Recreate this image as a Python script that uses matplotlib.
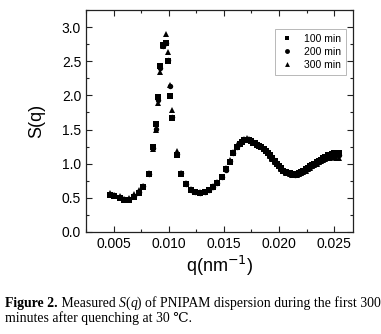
import matplotlib
matplotlib.use("Agg")
import matplotlib.pyplot as plt
from matplotlib.ticker import MultipleLocator

# scattering vector, peak region (nm^-1)
q_low = [0.00464, 0.00506, 0.00554, 0.00597, 0.00639, 0.00681, 0.00730, 0.00771,
         0.00817, 0.00859, 0.00884, 0.00904, 0.00925, 0.00947, 0.00971, 0.00992,
         0.01010, 0.01034, 0.01077, 0.01115, 0.01158, 0.01200, 0.01242, 0.01285,
         0.01327, 0.01369, 0.01400, 0.01441, 0.01481, 0.01520, 0.01556, 0.01586,
         0.01622]
s100_low = [0.54, 0.53, 0.50, 0.47, 0.47, 0.51, 0.57, 0.66, 0.85, 1.25, 1.58, 1.97,
            2.43, 2.74, 2.77, 2.50, 1.99, 1.67, 1.12, 0.85, 0.70, 0.62, 0.58, 0.57,
            0.58, 0.62, 0.66, 0.72, 0.81, 0.92, 1.03, 1.15, 1.25]
s200_low = [0.55, 0.54, 0.51, 0.48, 0.48, 0.53, 0.58, 0.67, 0.85, 1.23, 1.51, 1.93,
            2.40, 2.72, 2.76, 2.52, 2.14, 1.69, 1.14, 0.86, 0.71, 0.62, 0.58, 0.57,
            0.58, 0.61, 0.66, 0.72, 0.80, 0.91, 1.04, 1.16, 1.25]
s300_low = [0.57, 0.54, 0.52, 0.48, 0.50, 0.55, 0.61, 0.67, 0.86, 1.21, 1.49, 1.89,
            2.34, 2.73, 2.90, 2.63, 2.15, 1.78, 1.19, 0.87, 0.72, 0.63, 0.59, 0.58,
            0.59, 0.62, 0.67, 0.73, 0.81, 0.93, 1.05, 1.17, 1.27]

# dense high-q region
q_high = [0.01645, 0.01665, 0.01685, 0.01705, 0.01725, 0.01745, 0.01765, 0.0178,
          0.0180, 0.0182, 0.0184, 0.0186, 0.0188, 0.0190, 0.0192, 0.0194, 0.0196,
          0.0198, 0.0200, 0.0202, 0.0204, 0.0206, 0.0208, 0.0210, 0.0212, 0.0214,
          0.0216, 0.0218, 0.0220, 0.0222, 0.0224, 0.0226, 0.0228, 0.0230, 0.0232,
          0.0234, 0.0236, 0.0238, 0.0240, 0.0242, 0.0244, 0.0246, 0.0248, 0.0250,
          0.0252, 0.02545]
s100_high = [1.29, 1.32, 1.34, 1.35, 1.34, 1.33, 1.31, 1.30, 1.28, 1.26, 1.24, 1.22,
             1.19, 1.16, 1.12, 1.08, 1.04, 1.00, 0.97, 0.93, 0.90, 0.88, 0.87, 0.86,
             0.85, 0.85, 0.85, 0.86, 0.88, 0.90, 0.92, 0.94, 0.96, 0.98, 1.00, 1.02,
             1.04, 1.06, 1.08, 1.10, 1.12, 1.13, 1.14, 1.15, 1.15, 1.15]
s200_high = [1.30, 1.33, 1.35, 1.36, 1.35, 1.33, 1.32, 1.30, 1.28, 1.26, 1.24, 1.21,
             1.18, 1.15, 1.12, 1.08, 1.04, 1.00, 0.96, 0.93, 0.90, 0.88, 0.86, 0.85,
             0.85, 0.84, 0.85, 0.86, 0.87, 0.89, 0.91, 0.93, 0.95, 0.97, 0.99, 1.01,
             1.03, 1.05, 1.07, 1.09, 1.10, 1.11, 1.12, 1.12, 1.13, 1.12]
s300_high = [1.31, 1.34, 1.36, 1.37, 1.36, 1.34, 1.32, 1.31, 1.29, 1.27, 1.25, 1.22,
             1.19, 1.15, 1.11, 1.07, 1.03, 0.99, 0.96, 0.92, 0.89, 0.87, 0.86, 0.85,
             0.84, 0.84, 0.84, 0.85, 0.86, 0.88, 0.90, 0.92, 0.94, 0.96, 0.98, 1.00,
             1.02, 1.04, 1.05, 1.07, 1.08, 1.09, 1.10, 1.10, 1.09, 1.08]

labels = ["100 min", "200 min", "300 min"]
markers = ["s", "o", "^"]

plt.rcParams["font.family"] = ["Liberation Sans", "DejaVu Sans"]

fig = plt.figure(figsize=(3.81, 3.34), dpi=100)
ax = fig.add_axes([0.2257, 0.3054, 0.7008, 0.6646])

series = [(s100_low, s100_high), (s200_low, s200_high), (s300_low, s300_high)]
for (lo, hi), lab, mk in zip(series, labels, markers):
    ax.plot(q_low + q_high, lo + hi, linestyle="none", marker=mk, color="black",
            markersize=3.9, markeredgewidth=0, label=lab)

ax.set_xlim(0.0025, 0.0267)
ax.set_ylim(0.0, 3.25)
ax.xaxis.set_major_locator(MultipleLocator(0.005))
ax.xaxis.set_minor_locator(MultipleLocator(0.0025))
ax.yaxis.set_major_locator(MultipleLocator(0.5))
ax.yaxis.set_minor_locator(MultipleLocator(0.25))
ax.xaxis.set_major_formatter(plt.FormatStrFormatter("%.3f"))
ax.yaxis.set_major_formatter(plt.FormatStrFormatter("%.1f"))
ax.tick_params(which="both", direction="in", top=True, right=True, labelsize=10,
               color="#222222")
ax.tick_params(which="major", length=4, width=0.8)
ax.tick_params(which="minor", length=2, width=0.8)
for sp in ax.spines.values():
    sp.set_linewidth(0.9)
    sp.set_color("#222222")

ax.set_xlabel("q(nm$^{-1}$)", fontsize=13, labelpad=2)
ax.set_ylabel("S(q)", fontsize=13, labelpad=12)

leg = ax.legend(loc="upper right", bbox_to_anchor=(0.974, 0.914), borderaxespad=0,
                fontsize=7.5, frameon=True, fancybox=False, handletextpad=1.0,
                borderpad=0.45, labelspacing=0.3, handlelength=1.4,
                markerscale=0.9)
leg.get_frame().set_edgecolor("#999999")
leg.get_frame().set_linewidth(0.6)

# caption, built from pieces so bold / italic runs sit in a serif face
serif = ["Liberation Serif", "DejaVu Serif"]
cap = dict(fontsize=9.9, family=serif, va="bottom", ha="left",
           annotation_clip=False)
y1 = 1 - 310 / 334
y2 = 1 - 325 / 334
parts = [(" Measured ", "normal", "normal"), ("S", "normal", "italic"),
         ("(", "normal", "normal"), ("q", "normal", "italic"),
         (") of PNIPAM dispersion during the first 300", "normal", "normal")]

# chain the pieces with annotate so each starts where the previous one ends
t = ax.annotate("Figure 2.", xy=(0.013, y1), xycoords="figure fraction",
                fontweight="bold", **cap)
for txt, wt, st in parts:
    t = ax.annotate(txt, xy=(1, 0), xycoords=t, fontweight=wt, fontstyle=st,
                    **cap)
ax.annotate("minutes after quenching at 30 \u2103.", xy=(0.013, y2),
            xycoords="figure fraction", **cap)

fig.savefig("out.png", dpi=100)
